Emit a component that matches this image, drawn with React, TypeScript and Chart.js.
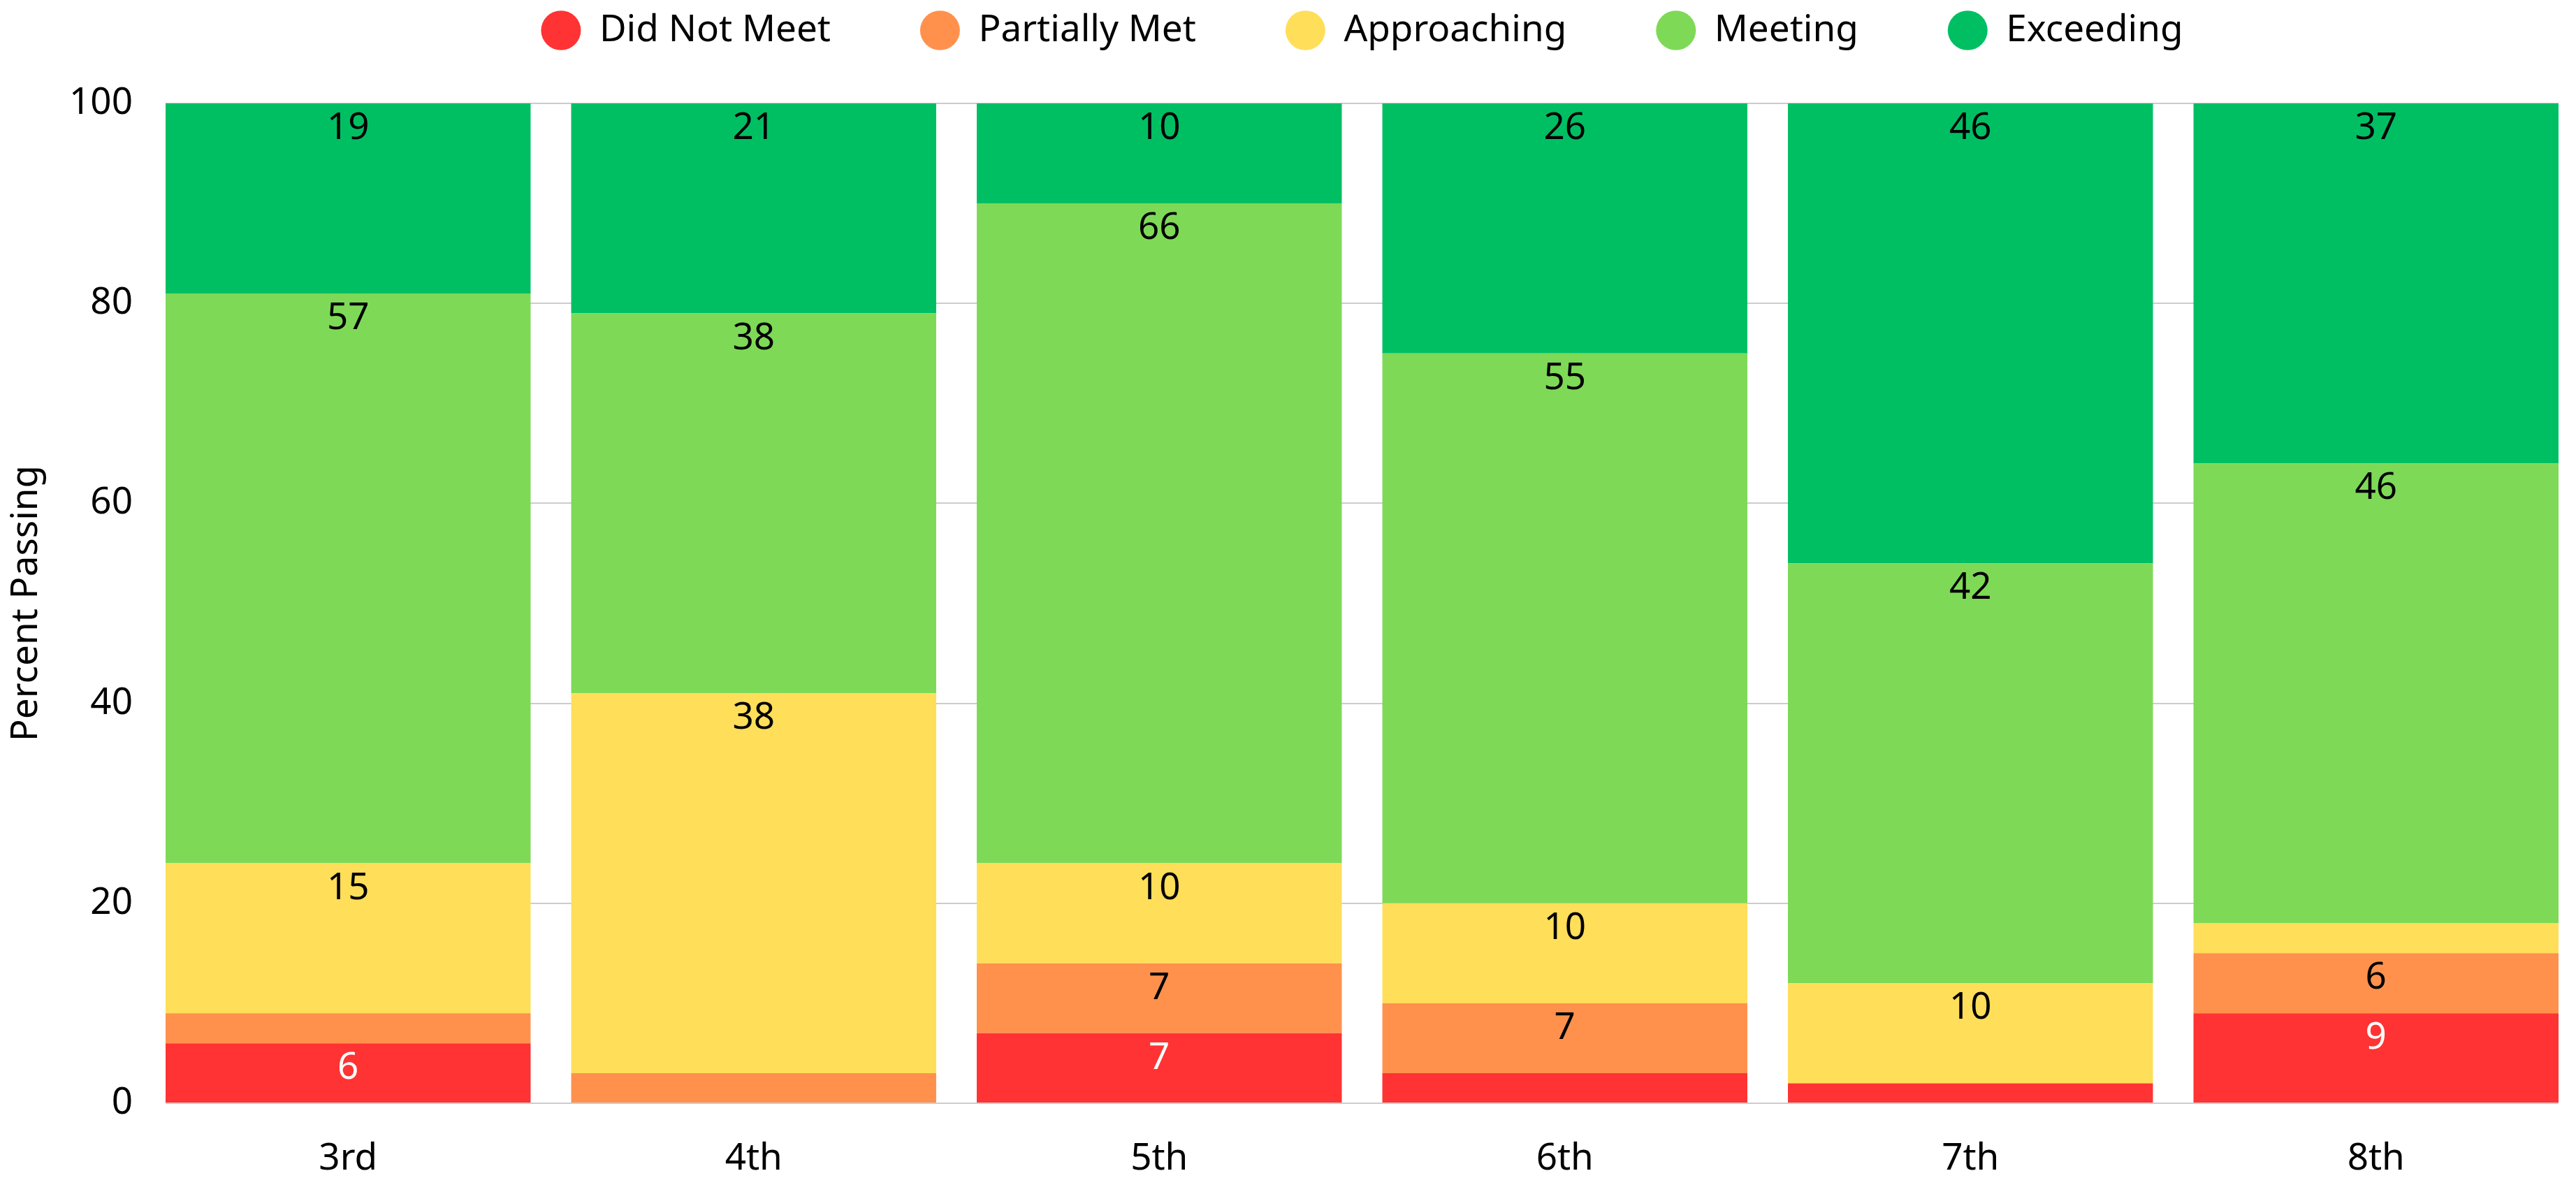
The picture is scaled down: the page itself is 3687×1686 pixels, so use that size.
import React, { useEffect, useRef } from 'react';
import { Chart, registerables } from 'chart.js';

Chart.register(...registerables);

// ---- data ----
const CATEGORIES = ['3rd', '4th', '5th', '6th', '7th', '8th'];
const SERIES_NAMES = ['Did Not Meet', 'Partially Met', 'Approaching', 'Meeting', 'Exceeding'];
const DID_NOT_MEET = [6, 0, 7, 3, 2, 9];
const PARTIALLY_MET = [3, 3, 7, 7, 0, 6];
const APPROACHING = [15, 38, 10, 10, 10, 3];
const MEETING = [57, 38, 66, 55, 42, 46];
const EXCEEDING = [19, 21, 10, 26, 46, 37];
const SERIES_VALUES = [DID_NOT_MEET, PARTIALLY_MET, APPROACHING, MEETING, EXCEEDING];
const Y_MIN = 0;
const Y_MAX = 100;
const Y_STEP = 20;

// ---- styles ----
const COLORS = ['#FF3333', '#FF914D', '#FFDE59', '#7ED957', '#00BF63'];
const LABEL_COLORS = ['#FFFFFF', '#000000', '#000000', '#000000', '#000000'];
const FONT_FAMILY = '"Noto Sans", "Open Sans", sans-serif';
const FONT_SIZE = 53;
const LEGEND_PADDING = 128;
const W = 3687;
const H = 1686;

const legendFit = {
  id: 'legendFit',
  beforeInit(chart: any) {
    const legend = chart.legend;
    if (!legend) return;
    const orig = legend.fit;
    legend.fit = function () {
      orig.call(this);
      this.height = 148 - (17 - LEGEND_PADDING);
    };
  },
};

const barLabels = {
  id: 'barLabels',
  afterDatasetsDraw(chart: any) {
    const { ctx, chartArea } = chart;
    ctx.save();
    ctx.font = `${FONT_SIZE}px ${FONT_FAMILY}`;
    ctx.textAlign = 'center';
    ctx.textBaseline = 'alphabetic';
    chart.data.datasets.forEach((_ds: any, di: number) => {
      const meta = chart.getDatasetMeta(di);
      meta.data.forEach((bar: any, i: number) => {
        const v = SERIES_VALUES[di][i];
        if (v < 5) return;
        const top = Math.max(Math.min(bar.y, bar.base), chartArea.top);
        ctx.fillStyle = LABEL_COLORS[di];
        ctx.fillText(String(v), bar.x, top + 51);
      });
    });
    ctx.restore();
  },
};

export default function App() {
  const ref = useRef<HTMLCanvasElement | null>(null);

  useEffect(() => {
    const canvas = ref.current;
    if (!canvas) return;
    const chart = new Chart(canvas, {
      type: 'bar',
      data: {
        datasets: SERIES_NAMES.map((name, di) => ({
          label: name,
          data: SERIES_VALUES[di].map((v, i) => ({ x: i, y: v })),
          backgroundColor: COLORS[di],
          borderWidth: 0,
          barPercentage: 0.9,
          categoryPercentage: 1,
        })),
      },
      options: {
        animation: false,
        responsive: false,
        devicePixelRatio: 1,
        color: '#000',
        font: { family: FONT_FAMILY, size: FONT_SIZE },
        layout: { padding: { top: 17 - LEGEND_PADDING, left: 0, right: 25, bottom: 0 } },
        plugins: {
          legend: {
            display: true,
            position: 'top',
            fullSize: false,
            labels: {
              usePointStyle: true,
              pointStyle: 'circle',
              pointStyleWidth: 57,
              boxHeight: 40,
              padding: LEGEND_PADDING,
              color: '#000',
              font: { family: FONT_FAMILY, size: FONT_SIZE },
            },
          },
          tooltip: { enabled: false },
        },
        scales: {
          x: {
            type: 'linear',
            stacked: true,
            min: -0.45,
            max: CATEGORIES.length - 1 + 0.45,
            offset: false,
            grid: { display: false },
            border: { display: false },
            afterBuildTicks: (scale: any) => {
              scale.ticks = CATEGORIES.map((_, i) => ({ value: i }));
            },
            afterFit: (scale: any) => {
              scale.height = 107;
            },
            ticks: {
              autoSkip: false,
              maxRotation: 0,
              padding: 40,
              color: '#000',
              font: { family: FONT_FAMILY, size: FONT_SIZE },
              callback: (v: any) => CATEGORIES[Math.round(Number(v))] ?? '',
            },
          },
          y: {
            stacked: true,
            min: Y_MIN,
            max: Y_MAX,
            grid: { color: '#cccccc', lineWidth: 2, drawTicks: false },
            border: { display: false },
            afterFit: (scale: any) => {
              scale.width = 237;
            },
            ticks: {
              stepSize: Y_STEP,
              padding: 47,
              color: '#000',
              font: { family: FONT_FAMILY, size: FONT_SIZE },
            },
            title: {
              display: true,
              text: 'Percent Passing',
              color: '#000',
              padding: { top: 6, bottom: 0 },
              font: { family: FONT_FAMILY, size: FONT_SIZE },
            },
          },
        },
      } as any,
      plugins: [legendFit, barLabels],
    });
    return () => chart.destroy();
  }, []);

  return (
    <div style={{ position: 'fixed', left: 0, top: 0, width: W, height: H, background: '#fff' }}>
      <canvas ref={ref} width={W} height={H} style={{ display: 'block', width: W, height: H }} />
    </div>
  );
}
